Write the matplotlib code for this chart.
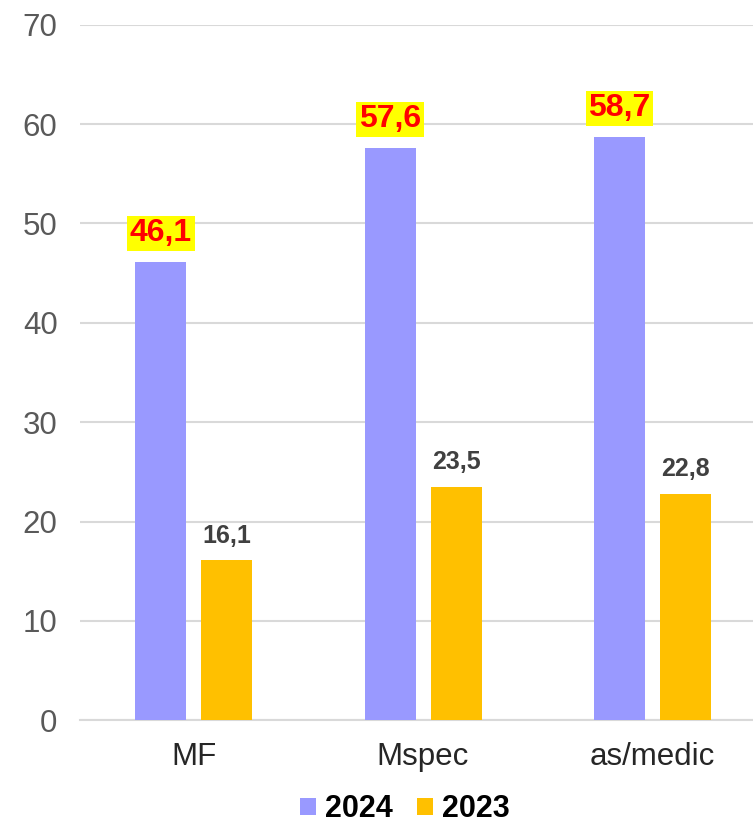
import matplotlib

matplotlib.use('Agg')
import matplotlib.pyplot as plt
import numpy as np

plt.rcParams['font.family'] = ['Liberation Sans', 'DejaVu Sans']

categories = ['MF', 'Mspec', 'as/medic']
series_names = ['2024', '2023']
values_2024 = [46.1, 57.6, 58.7]
values_2023 = [16.1, 23.5, 22.8]
labels_2024 = ['46,1', '57,6', '58,7']
labels_2023 = ['16,1', '23,5', '22,8']

COLOR_2024 = '#9999FF'
COLOR_2023 = '#FFC000'

fig = plt.figure(figsize=(7.53, 8.25), dpi=100)
ax = fig.add_axes([0.106, 0.127, 0.894, 0.843])

x = np.arange(len(categories))
width = 0.223
offset = 0.144

bars_a = ax.bar(x - offset, values_2024, width, color=COLOR_2024, label=series_names[0], zorder=3)
bars_b = ax.bar(x + offset, values_2023, width, color=COLOR_2023, label=series_names[1], zorder=3)

for rect, text in zip(bars_a, labels_2024):
    ax.annotate(text, (rect.get_x() + rect.get_width() / 2, rect.get_height()),
                xytext=(0, 10), textcoords='offset points', ha='center', va='bottom',
                fontsize=23, fontweight='bold', color='#FF0000',
                bbox=dict(boxstyle='square,pad=0.08', fc='#FFFF00', ec='none'))

for rect, text in zip(bars_b, labels_2023):
    ax.annotate(text, (rect.get_x() + rect.get_width() / 2, rect.get_height()),
                xytext=(0, 9), textcoords='offset points', ha='center', va='bottom',
                fontsize=18, fontweight='bold', color='#404040')

ax.set_ylim(0, 70)
ax.set_xlim(-0.498, 2.44)
ax.set_yticks(range(0, 71, 10))
ax.set_xticks(x)
ax.set_xticklabels(categories)
ax.tick_params(axis='both', length=0, labelsize=22.5)
ax.tick_params(axis='y', pad=16, labelcolor='#595959')
ax.tick_params(axis='x', pad=16, labelcolor='#262626')
ax.grid(axis='y', color='#d9d9d9', linewidth=1.5, zorder=0)
for side in ['top', 'right', 'left']:
    ax.spines[side].set_visible(False)
ax.spines['bottom'].set_color('#d9d9d9')
ax.spines['bottom'].set_linewidth(1.5)

leg = fig.legend(loc='center', bbox_to_anchor=(0.538, 0.019), ncol=2, frameon=False,
                 handlelength=0.52, handleheight=0.52, handletextpad=0.3, columnspacing=0.8,
                 borderpad=0, prop={'size': 22, 'weight': 'bold'})

fig.savefig('out.png', dpi=100)
